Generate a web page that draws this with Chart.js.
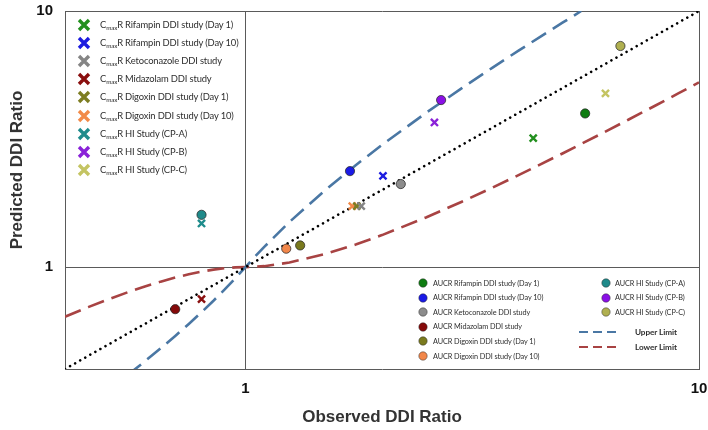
<!DOCTYPE html>
<html>
<head>
<meta charset="utf-8">
<script src="https://cdn.jsdelivr.net/npm/chart.js@4"></script>
<style>
  html, body { margin: 0; padding: 0; background: #fff; }
  #wrap { position: relative; width: 708px; height: 430px; overflow: hidden; }
  canvas { position: absolute; left: 0; top: 0; }
  .leg { position: absolute; left: 0; top: 0; font-family: Lato, "Open Sans", sans-serif; color: #2e2e2e; white-space: nowrap; }
  .row { position: absolute; display: flex; align-items: center; }
  .row svg { position: absolute; }
  .tl { font-size: 9.4px; letter-spacing: -0.15px; }
  .br { font-size: 7.3px; letter-spacing: -0.08px; }
  .tl sub { font-size: 6.3px; vertical-align: -2px; }
  .lim { font-weight: bold; font-size: 8.2px; }
  #ytitle { position: absolute; width: 220px; left: -93px; top: 160px; height: 20px; line-height: 20px; text-align: center;
    transform: rotate(-90deg); font-family: "Liberation Sans", Arial, sans-serif; font-weight: bold; font-size: 17px; color: #333; }
</style>
</head>
<body>
<div id="wrap">
  <canvas id="c" width="708" height="430"></canvas>
  <div id="legTL" class="leg tl"></div>
  <div id="legBR" class="leg br"></div>
  <div id="ytitle"></div>
</div>
<script>
// ---- data ----
const studies = [
  "Rifampin DDI study (Day 1)",
  "Rifampin DDI study (Day 10)",
  "Ketoconazole DDI study",
  "Midazolam DDI study",
  "Digoxin DDI study (Day 1)",
  "Digoxin DDI study (Day 10)",
  "HI Study (CP-A)",
  "HI Study (CP-B)",
  "HI Study (CP-C)"
];
const cmaxObserved  = [4.31, 2.01, 1.80, 0.80, 1.76, 1.72, 0.80, 2.61, 6.22];
const cmaxPredicted = [3.19, 2.27, 1.73, 0.75, 1.73, 1.73, 1.48, 3.67, 4.77];
const aucObserved   = [5.61, 1.70, 2.20, 0.70, 1.32, 1.23, 0.80, 2.70, 6.71];
const aucPredicted  = [3.98, 2.37, 2.11, 0.685, 1.215, 1.18, 1.60, 4.49, 7.30];
const crossColors  = ["#23901f", "#1c1ce0", "#858585", "#8a0f0f", "#7d7d22", "#f28a48", "#1f8c8c", "#8a22d8", "#c4c462"];
const circleColors = ["#0f7d12", "#1a1ae6", "#8c8c8c", "#850a0a", "#7a7a1e", "#f2874a", "#1f8a8a", "#8a10e6", "#b0b050"];

const unityX = [0.4, 10];
const unityY = [0.4, 10];
const upperX = [0.55, 0.6, 0.65, 0.7, 0.75, 0.8, 0.85, 0.9, 0.95, 1, 1.05, 1.1, 1.25, 1.5, 1.75, 2, 2.5, 3, 3.5, 4, 4.5, 5, 5.5];
const upperY = [0.379, 0.4286, 0.4815, 0.5385, 0.6, 0.6667, 0.7391, 0.8182, 0.9048, 1, 1.1, 1.2, 1.5, 2, 2.5, 3, 4, 5, 6, 7, 8, 9, 10];
const lowerX = [0.4, 0.45, 0.5, 0.55, 0.6, 0.65, 0.7, 0.75, 0.8, 0.85, 0.9, 0.95, 1, 1.1, 1.25, 1.5, 1.75, 2, 2.5, 3, 3.5, 4, 5, 6, 7, 8, 9, 10];
const lowerY = [0.64, 0.6975, 0.75, 0.7975, 0.84, 0.8775, 0.91, 0.9375, 0.96, 0.9775, 0.99, 0.9975, 1, 1.0083, 1.0417, 1.125, 1.225, 1.3333, 1.5625, 1.8, 2.0417, 2.2857, 2.7778, 3.2727, 3.7692, 4.2667, 4.7647, 5.2632];
const tickValues = [1, 10];
const xTitle = "Observed DDI Ratio";
const yTitle = "Predicted DDI Ratio";

// ---- build ----
const pts = (xs, ys) => xs.map((x, i) => ({ x: x, y: ys[i] }));
const datasets = [];
datasets.push({ type: 'line', label: 'Unity', data: pts(unityX, unityY), borderColor: '#000', borderWidth: 2.6,
  borderDash: [0.01, 5.8], borderCapStyle: 'round', pointRadius: 0, fill: false, order: 10 });
datasets.push({ type: 'line', label: 'Upper Limit', data: pts(upperX, upperY), borderColor: '#4a77a4', borderWidth: 2.6,
  borderDash: [17, 8], pointRadius: 0, fill: false, order: 10, tension: 0 });
datasets.push({ type: 'line', label: 'Lower Limit', data: pts(lowerX, lowerY), borderColor: '#a84343', borderWidth: 2.6,
  borderDash: [17, 8], pointRadius: 0, fill: false, order: 10, tension: 0 });
studies.forEach((s, i) => {
  datasets.push({ type: 'scatter', label: 'AUCR ' + s, data: [{ x: aucObserved[i], y: aucPredicted[i] }],
    pointStyle: 'circle', pointRadius: 4.6, backgroundColor: circleColors[i], borderColor: 'rgba(40,40,40,0.75)', borderWidth: 1, order: 1 });
  datasets.push({ type: 'scatter', label: 'CmaxR ' + s, data: [{ x: cmaxObserved[i], y: cmaxPredicted[i] }],
    pointStyle: 'crossRot', pointRadius: 5, borderColor: crossColors[i], backgroundColor: crossColors[i], borderWidth: 2.4, order: 0 });
});

const tickFont = { family: '"Liberation Sans", Arial, sans-serif', size: 15, weight: 'bold' };
const titleFont = { family: '"Liberation Sans", Arial, sans-serif', size: 17, weight: 'bold' };
const axisColor = '#5a5a5a';
function commonScale(title, isX) {
  return {
    type: 'logarithmic', min: 0.4, max: 10,
    afterBuildTicks: s => { s.ticks = tickValues.map(v => ({ value: v })); },
    ticks: { callback: v => (tickValues.includes(v) ? String(v) : ''), font: tickFont, color: '#111',
      padding: isX ? 11 : 12, autoSkip: false, maxRotation: 0, minRotation: 0 },
    grid: { color: axisColor, lineWidth: 1, drawTicks: false },
    border: { color: axisColor, width: 1 },
    title: { display: isX, text: title, font: titleFont, color: '#333', padding: { top: 0, bottom: 2 } },
    afterFit: s => {
      if (isX) { s.height = 61; s.paddingLeft = 0; s.paddingRight = 0; }
      else { s.width = 65; s.paddingTop = 0; s.paddingBottom = 0; }
    }
  };
}

new Chart(document.getElementById('c'), {
  type: 'scatter',
  data: { datasets: datasets },
  options: {
    responsive: false, animation: false, devicePixelRatio: 1,
    layout: { padding: { top: 11, right: 9, left: 0, bottom: 0 } },
    plugins: { legend: { display: false }, tooltip: { enabled: false } },
    scales: { x: commonScale(xTitle, true), y: commonScale(yTitle, false) }
  }
});
document.getElementById('ytitle').textContent = yTitle;

// ---- legends (HTML text) ----
const tl = document.getElementById('legTL');
studies.forEach((s, i) => {
  const r = document.createElement('div');
  r.className = 'row';
  r.style.left = '76px';
  r.style.top = (25 + i * 18.1 - 8) + 'px';
  r.style.height = '16px';
  r.innerHTML = '<svg width="16" height="16" style="left:0;top:0"><path d="M3 3 L13 13 M13 3 L3 13" stroke="' + crossColors[i] +
    '" stroke-width="3.4" /></svg><span style="margin-left:24px">C<sub>max</sub>R ' + s + '</span>';
  tl.appendChild(r);
});
const br = document.getElementById('legBR');
function brRow(x, y, svg, html, cls) {
  const r = document.createElement('div');
  r.className = 'row' + (cls ? ' ' + cls : '');
  r.style.left = x + 'px';
  r.style.top = (y - 7) + 'px';
  r.style.height = '14px';
  r.innerHTML = svg + html;
  br.appendChild(r);
}
const circ = c => '<svg width="12" height="14" style="left:0;top:0"><circle cx="6" cy="7" r="4.2" fill="' + c + '" stroke="rgba(40,40,40,0.6)" stroke-width="0.8"/></svg>';
for (let i = 0; i < 6; i++) {
  brRow(417, 283 + i * 14.6, circ(circleColors[i]), '<span style="margin-left:16px">AUCR ' + studies[i] + '</span>');
}
for (let i = 6; i < 9; i++) {
  brRow(600, 283 + (i - 6) * 14.5, circ(circleColors[i]), '<span style="margin-left:15px">AUCR ' + studies[i] + '</span>');
}
const dash = c => '<svg width="40" height="14" style="left:0;top:0"><line x1="0" y1="7" x2="40" y2="7" stroke="' + c + '" stroke-width="2" stroke-dasharray="9,5"/></svg>';
brRow(579, 332, dash('#4a77a4'), '<span style="margin-left:56px">Upper Limit</span>', 'lim');
brRow(579, 347, dash('#a84343'), '<span style="margin-left:56px">Lower Limit</span>', 'lim');
</script>
</body>
</html>
